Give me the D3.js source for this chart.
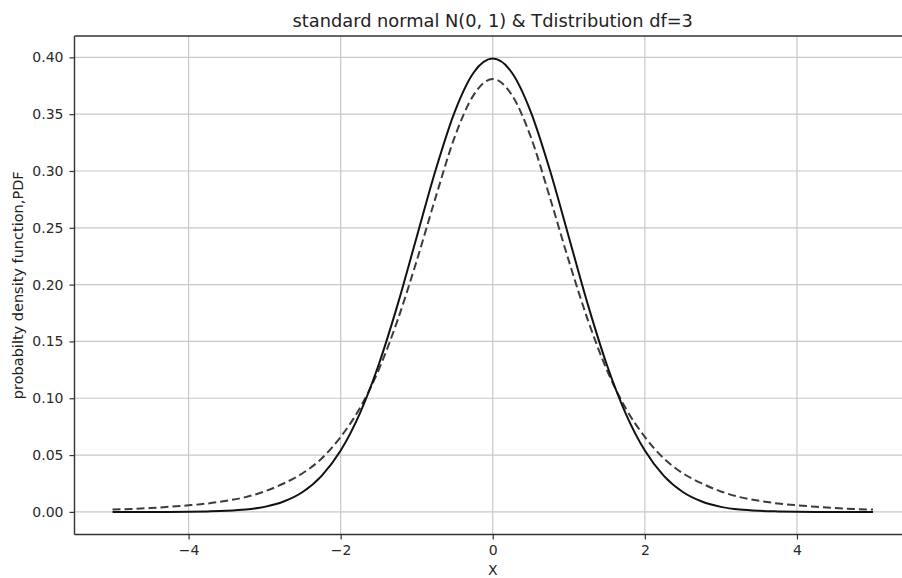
<!DOCTYPE html>
<html lang="en">
<head>
    <meta charset="UTF-8">
    <title>standard normal vs T distribution</title>
    <style>
        html, body { margin: 0; padding: 0; background: #fff; }
        svg { display: block; font-family: "DejaVu Sans", sans-serif; }
    </style>
</head>
<body>
    <svg id="chart" width="902" height="578"></svg>

    <script src="https://cdnjs.cloudflare.com/ajax/libs/d3/7.8.5/d3.min.js"></script>
    <script>
        // values, x from -5 to 5 in steps of 0.25
        var xValues = [-5, -4.75, -4.5, -4.25, -4, -3.75, -3.5, -3.25, -3, -2.75, -2.5, -2.25, -2, -1.75, -1.5, -1.25, -1, -0.75, -0.5, -0.25,
                       0, 0.25, 0.5, 0.75, 1, 1.25, 1.5, 1.75, 2, 2.25, 2.5, 2.75, 3, 3.25, 3.5, 3.75, 4, 4.25, 4.5, 4.75, 5];
        var normalPdf = [0, 0, 0, 0, 0.0001, 0.0004, 0.0009, 0.0020, 0.0044, 0.0091, 0.0175, 0.0317, 0.0540, 0.0863, 0.1295, 0.1826, 0.2420, 0.3011, 0.3521, 0.3867,
                         0.3989, 0.3867, 0.3521, 0.3011, 0.2420, 0.1826, 0.1295, 0.0863, 0.0540, 0.0317, 0.0175, 0.0091, 0.0044, 0.0020, 0.0009, 0.0004, 0.0001, 0, 0, 0, 0];
        var tPdf = [0.0020, 0.0026, 0.0034, 0.0045, 0.0058, 0.0074, 0.0098, 0.0130, 0.0180, 0.0250, 0.0340, 0.0470, 0.0660, 0.0910, 0.1250, 0.1690, 0.2210, 0.2770, 0.3300, 0.3670,
                    0.3810, 0.3670, 0.3300, 0.2770, 0.2210, 0.1690, 0.1250, 0.0910, 0.0660, 0.0470, 0.0340, 0.0250, 0.0180, 0.0130, 0.0098, 0.0074, 0.0058, 0.0045, 0.0034, 0.0026, 0.0020];
        var xTicks = [-4, -2, 0, 2, 4];
        var yTicks = [0, 0.05, 0.10, 0.15, 0.20, 0.25, 0.30, 0.35, 0.40];

        var svg = d3.select("#chart");
        // plot box (right edge runs past the picture, as in the reference)
        var pLeft = 74.5, pRight = 911, pTop = 36, pBottom = 534.5;

        var x = d3.scaleLinear().domain([-5.5, 5.5]).range([pLeft, pRight]);
        var y = d3.scaleLinear().domain([-0.0199, 0.4188]).range([pBottom, pTop]);

        // grid
        svg.append("g").selectAll("line").data(xTicks).enter().append("line")
            .attr("x1", d => x(d)).attr("x2", d => x(d))
            .attr("y1", pTop).attr("y2", pBottom)
            .attr("stroke", "#c8c8c8").attr("stroke-width", 1.2);
        svg.append("g").selectAll("line").data(yTicks).enter().append("line")
            .attr("x1", pLeft).attr("x2", pRight)
            .attr("y1", d => y(d)).attr("y2", d => y(d))
            .attr("stroke", "#c8c8c8").attr("stroke-width", 1.2);

        // curves
        var pts = function(vals) { return xValues.map(function(v, i) { return [v, vals[i]]; }); };
        var line = d3.line().x(d => x(d[0])).y(d => y(d[1])).curve(d3.curveMonotoneX);

        svg.append("path").datum(pts(tPdf))
            .attr("d", line)
            .attr("fill", "none")
            .attr("stroke", "#3c3c3c")
            .attr("stroke-width", 2)
            .attr("stroke-dasharray", "8,4");

        svg.append("path").datum(pts(normalPdf))
            .attr("d", line)
            .attr("fill", "none")
            .attr("stroke", "#111")
            .attr("stroke-width", 2);

        // axes
        var fmtX = function(d) { return d < 0 ? "\u2212" + Math.abs(d) : String(d); };
        var xAxis = svg.append("g")
            .attr("transform", "translate(0," + pBottom + ")")
            .call(d3.axisBottom(x).tickValues(xTicks).tickFormat(fmtX).tickSize(5).tickPadding(6));
        var yAxis = svg.append("g")
            .attr("transform", "translate(" + pLeft + ",0)")
            .call(d3.axisLeft(y).tickValues(yTicks).tickFormat(d3.format(".2f")).tickSize(5).tickPadding(6));

        [xAxis, yAxis].forEach(function(a) {
            a.attr("font-size", null).attr("font-family", null);
            a.selectAll("text").style("font-size", "14px").attr("fill", "#2a2a2a");
            a.selectAll(".tick line").attr("stroke", "#333").attr("stroke-width", 1.2);
            a.select(".domain").remove();
        });

        // spines
        svg.append("line").attr("x1", pLeft).attr("x2", pLeft).attr("y1", pTop).attr("y2", pBottom)
            .attr("stroke", "#333").attr("stroke-width", 1.4);
        svg.append("line").attr("x1", pLeft).attr("x2", pRight).attr("y1", pBottom).attr("y2", pBottom)
            .attr("stroke", "#333").attr("stroke-width", 1.4);
        svg.append("line").attr("x1", pLeft).attr("x2", pRight).attr("y1", pTop).attr("y2", pTop)
            .attr("stroke", "#333").attr("stroke-width", 1.4);

        // texts
        svg.append("text")
            .attr("x", (pLeft + pRight) / 2).attr("y", 27)
            .attr("text-anchor", "middle")
            .style("font-size", "17.8px").attr("fill", "#222")
            .text("standard normal N(0, 1) & Tdistribution df=3");

        svg.append("text")
            .attr("x", (pLeft + pRight) / 2).attr("y", 575)
            .attr("text-anchor", "middle")
            .style("font-size", "14px").attr("fill", "#222")
            .text("X");

        svg.append("text")
            .attr("transform", "translate(23," + ((pTop + pBottom) / 2) + ") rotate(-90)")
            .attr("text-anchor", "middle")
            .style("font-size", "14.5px").attr("fill", "#222")
            .text("probabilty density function,PDF");
    </script>
</body>
</html>
